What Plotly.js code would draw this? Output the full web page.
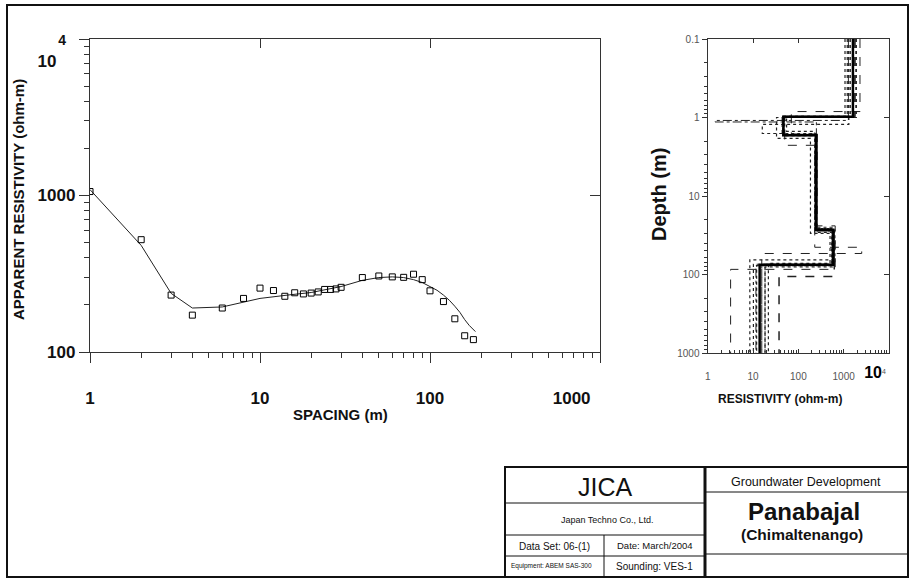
<!DOCTYPE html>
<html><head><meta charset="utf-8">
<script src="https://cdn.plot.ly/plotly-3.0.1.min.js"></script>
<style>html,body{margin:0;padding:0;background:#fff}#chart{width:910px;height:580px}</style>
</head><body><div id="chart"></div>
<script>
// ---- Sounding curve (left) ----
const spacing = [1,2,3,4,6,8,10,12,14,16,18,20,22,24,26,28,30,40,50,60,70,80,90,100,120,140,160,180];
const rhoApp  = [1060,522,231,172,191,220,256,247,227,239,235,238,242,251,251,253,259,299,306,302,300,314,290,246,210,163,127,120];
const curveX  = [1,2,3,4,6,8,10,15,20,30,40,50,60,70,80,90,100,110,120,130,140,150,160,170,185];
const curveY  = [1090,480,237,191,194,207,220,232,240,262,287,299,302,299,290,278,263,248,231,214,196,179,161,148,135];

// ---- Layered model (right) ----
const bestRho   = [1600, 47, 246, 590, 14];
const bestDepth = [0.98, 1.68, 27, 75];
const eqRho = [
  [1070, 55, 230, 560, 10.2],
  [1270, 1.45, 250, 580, 11.6],
  [2290, 70, 260, 620, 15.6],
  [1300, 16, 240, 560, 18.4],
  [1870, 33, 185, 500, 21.8],
  [1800, 50, 230, 2500, 15.6],
  [1600, 45, 250, 650, 3.2],
  [1700, 48, 260, 620, 37.5],
  [1400, 45, 235, 560, 8.5],
  [1900, 50, 255, 640, 18.4],
  [1200, 44, 230, 540, 12]
];
const eqDepth = [
  [1.0, 1.5, 26, 74],
  [1.09, 1.14, 27, 77],
  [0.84, 1.62, 28, 74],
  [1.22, 1.6, 25, 80],
  [1.0, 1.85, 30, 72],
  [0.98, 2.26, 45, 54],
  [1.0, 1.7, 24, 86],
  [0.98, 1.65, 28, 106],
  [0.97, 1.7, 27, 65],
  [1.0, 1.7, 26, 74],
  [0.96, 1.66, 29, 77]
];
const depthTop = 0.1, depthBottom = 1000;

// ---- Tick labels ----
const HIDE = s => '<span style="fill-opacity:0">' + s + '</span>';
const spacingTicks = [1,10,100,1000];
const spacingTickText = ['1','10','100','1000' + HIDE('000000')];
const rhoAppTicks = [100,1000,10000];
const rhoAppTickText = ['100','1000','&nbsp;<br><span style="font-size:14px">4</span>' + HIDE('0') + '<br>10' + HIDE('00')];
const resTicks = [1,10,100,1000,10000];
const resTickText = ['1','10','100','1000','<span style="font-size:16px;font-weight:bold;fill:#000">10</span><sup>4</sup>'];
const depthTicks = [0.1,1,10,100,1000];
const depthTickText = ['0.1','1','10','100','1000'];

// ---- Styles ----
const eqDash = ['dot','dashdot','dash','dot','dot','dash','dash','dash','dot','dot','dot'];
const eqWidth = [1.2,1,1,1.2,1.2,1,1,1.5,1.2,1.2,1.2];

function stepModel(rho, depth){
  const xs=[], ys=[];
  const bounds=[depthTop].concat(depth).concat([depthBottom]);
  for(let i=0;i<rho.length;i++){ xs.push(rho[i],rho[i]); ys.push(bounds[i],bounds[i+1]); }
  return {xs, ys};
}
function minorVals(a,b){ const v=[]; for(let e=a;e<b;e++){ for(let k=2;k<=9;k++) v.push(k*Math.pow(10,e)); } return v; }

const W=910,H=580;
const px=x=>x/W, py=y=>1-y/H;
const FONT='Liberation Sans, Arial, sans-serif';

const traces=[];
traces.push({x:curveX,y:curveY,type:'scatter',mode:'lines',line:{color:'#222',width:1},xaxis:'x',yaxis:'y',hoverinfo:'skip'});
traces.push({x:spacing,y:rhoApp,type:'scatter',mode:'markers',marker:{symbol:'square-open',size:6,color:'#000',line:{width:1}},xaxis:'x',yaxis:'y'});
eqRho.forEach((r,i)=>{
  const m=stepModel(r,eqDepth[i]);
  traces.push({x:m.xs,y:m.ys,type:'scatter',mode:'lines',line:{color:'#222',width:eqWidth[i],dash:eqDash[i]},xaxis:'x2',yaxis:'y2'});
});
const bm=stepModel(bestRho,bestDepth);
traces.push({x:bm.xs,y:bm.ys,type:'scatter',mode:'lines',line:{color:'#000',width:2.5},xaxis:'x2',yaxis:'y2'});
traces.push({x:[1],y:[1000],type:'scatter',mode:'markers',marker:{opacity:0},xaxis:'x3',yaxis:'y3'});
traces.push({x:[1],y:[1],type:'scatter',mode:'markers',marker:{opacity:0},xaxis:'x4',yaxis:'y4'});
traces.push({x:[1],y:[1],type:'scatter',mode:'markers',marker:{opacity:0},xaxis:'x5',yaxis:'y2'});

const axBase={showgrid:false,zeroline:false,showline:true,linecolor:'#333',linewidth:1.2,tickcolor:'#333'};
const bigTick={family:FONT,size:17,color:'#111',weight:'bold'};
const smallTick={family:FONT,size:10,color:'#555'};

const layout={
  width:W,height:H,margin:{l:0,r:0,t:0,b:0},paper_bgcolor:'#fff',plot_bgcolor:'rgba(0,0,0,0)',showlegend:false,
  xaxis:Object.assign({},axBase,{type:'log',range:[0,3],domain:[px(90),px(600)],anchor:'y',ticks:'outside',ticklen:10,
    tickvals:spacingTicks,ticktext:spacingTickText,tickfont:bigTick,ticklabelstandoff:20,ticklabeloverflow:'allow',
    minor:{ticks:'outside',ticklen:5,tickvals:minorVals(0,3),tickcolor:'#333',showgrid:false}}),
  yaxis:Object.assign({},axBase,{type:'log',range:[2,4],domain:[py(352),py(39)],anchor:'x',ticks:'outside',ticklen:10,
    tickvals:rhoAppTicks,ticktext:rhoAppTickText,tickfont:bigTick,ticklabeloverflow:'allow',
    minor:{ticks:'outside',ticklen:5,tickvals:minorVals(2,4),tickcolor:'#333',showgrid:false}}),
  xaxis3:Object.assign({},axBase,{type:'log',range:[0,3],overlaying:'x',side:'top',anchor:'y3',ticks:'inside',ticklen:9,
    tickvals:[10,100],showticklabels:false}),
  yaxis3:Object.assign({},axBase,{type:'log',range:[2,4],overlaying:'y',side:'right',anchor:'x3',ticks:'inside',ticklen:10,
    tickvals:[1000],showticklabels:false}),
  xaxis2:Object.assign({},axBase,{type:'log',range:[0,4],domain:[px(707.7),px(889)],anchor:'y2',ticks:'inside',ticklen:4,
    tickvals:resTicks.slice(0,4),ticktext:resTickText.slice(0,4),tickfont:smallTick,ticklabelstandoff:14,
    minor:{ticks:'inside',ticklen:3,tickvals:minorVals(0,4),tickcolor:'#333',showgrid:false}}),
  xaxis5:{type:'log',range:[0,4],overlaying:'x2',side:'bottom',anchor:'y2',showgrid:false,zeroline:false,showline:false,ticks:'',
    tickvals:resTicks.slice(4),ticktext:resTickText.slice(4),tickfont:smallTick,ticklabelstandoff:14,ticklabelshift:-14},
  yaxis2:Object.assign({},axBase,{type:'log',range:[3,-1],domain:[py(353),py(39)],anchor:'x2',ticks:'outside',ticklen:5,
    tickvals:depthTicks,ticktext:depthTickText,tickfont:smallTick,
    minor:{ticks:'outside',ticklen:3,tickvals:minorVals(-1,3),tickcolor:'#333',showgrid:false}}),
  xaxis4:Object.assign({},axBase,{type:'log',range:[0,4],overlaying:'x2',side:'top',anchor:'y4',ticks:'inside',ticklen:4,
    tickvals:[10,100],showticklabels:false}),
  yaxis4:Object.assign({},axBase,{type:'log',range:[3,-1],overlaying:'y2',side:'right',anchor:'x4',ticks:'inside',ticklen:5,
    tickvals:[1,10,100],showticklabels:false}),
  shapes:[],
  annotations:[]
};

const L=(x0,y0,x1,y1,w)=>({type:'line',xref:'paper',yref:'paper',x0:px(x0),y0:py(y0),x1:px(x1),y1:py(y1),line:{color:'#111',width:w||1}});
layout.shapes.push({type:'rect',xref:'paper',yref:'paper',x0:px(7),y0:py(5),x1:px(908),y1:py(577),line:{color:'#111',width:2}});
layout.shapes.push({type:'rect',xref:'paper',yref:'paper',x0:px(505),y0:py(467),x1:px(908),y1:py(577),line:{color:'#111',width:2}});
layout.shapes.push(L(705,467,705,577,3));
layout.shapes.push(L(505,503,705,503,1));
layout.shapes.push(L(505,535,705,535,1));
layout.shapes.push(L(505,556,705,556,1));
layout.shapes.push(L(604,535,604,577,1));
layout.shapes.push(L(705,492,908,492,1));
layout.shapes.push(L(705,554,908,554,1));

const A=(text,x,y,size,opts)=>Object.assign({text,xref:'paper',yref:'paper',x:px(x),y:py(y),xanchor:'center',yanchor:'middle',showarrow:false,
  font:{family:FONT,size,color:'#111'}},opts||{});
layout.annotations.push(A('APPARENT RESISTIVITY (ohm-m)',18,200,15,{textangle:-90,font:{family:FONT,size:15,color:'#111',weight:'bold'}}));
layout.annotations.push(A('SPACING (m)',340,414,15,{font:{family:FONT,size:15,color:'#111',weight:'bold'}}));
layout.annotations.push(A('Depth (m)',659,195,20,{textangle:-90,font:{family:FONT,size:20,color:'#111',weight:'bold'}}));
layout.annotations.push(A('RESISTIVITY (ohm-m)',780,399,12,{font:{family:FONT,size:12,color:'#111',weight:'bold'}}));
layout.annotations.push(A('JICA',605,487,25));
layout.annotations.push(A('Japan Techno Co., Ltd.',607,520,9));
layout.annotations.push(A('Data Set: 06-(1)',554,546,10));
layout.annotations.push(A('Date: March/2004',655,545,9.5));
layout.annotations.push(A('Equipment: ABEM SAS-300',551,566,6.5));
layout.annotations.push(A('Sounding: VES-1',654,566,10));
layout.annotations.push(A('Groundwater Development',806,482,12.5));
layout.annotations.push(A('<b>Panabajal</b>',804,511,24));
layout.annotations.push(A('<b>(Chimaltenango)</b>',802,534,15.5));

Plotly.newPlot('chart',traces,layout,{staticPlot:true});
</script></body></html>
